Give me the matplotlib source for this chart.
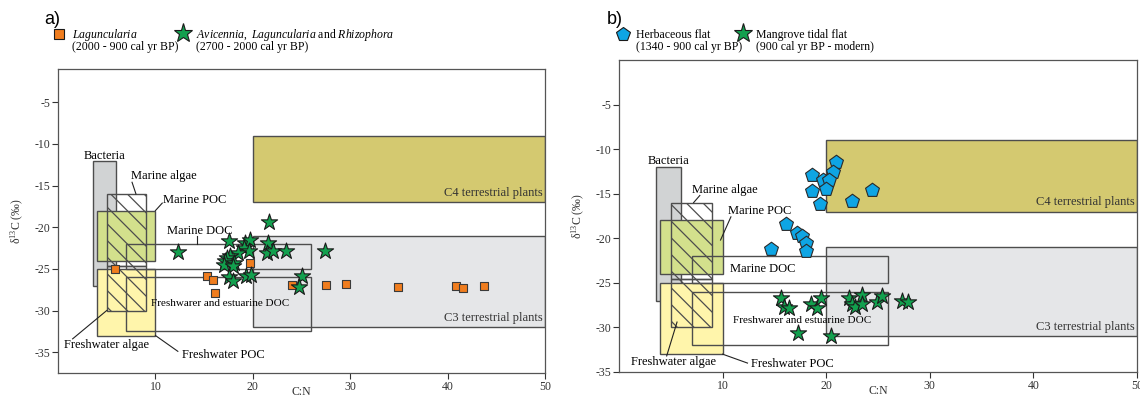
import matplotlib
matplotlib.use("Agg")
import matplotlib.pyplot as plt
from matplotlib.patches import Rectangle
from matplotlib.lines import Line2D

plt.rcParams["font.family"] = ["Liberation Serif", "DejaVu Serif"]
plt.rcParams["mathtext.fontset"] = "custom"
plt.rcParams["mathtext.rm"] = "Liberation Serif"
plt.rcParams["mathtext.it"] = "Liberation Serif:italic"
plt.rcParams["hatch.linewidth"] = 0.9
plt.rcParams["hatch.color"] = "#333333"

# --- panel a data (C:N, d13C) ---
lag_cn = [5.9, 15.3, 15.9, 16.1, 19.7, 24.0, 27.5, 29.6, 34.9, 40.9, 41.6, 43.7]
lag_d13 = [-25.0, -25.9, -26.3, -27.9, -24.3, -26.9, -26.9, -26.8, -27.2, -27.1, -27.3, -27.0]

mix_cn = [21.7, 12.3, 17.6, 19.2, 19.7, 19.1, 19.6, 18.5, 17.7, 17.3, 17.1, 18.1,
          17.0, 18.0, 21.6, 21.5, 22.1, 23.4, 27.4, 17.6, 18.0, 19.3, 19.8, 25.0, 24.7]
mix_d13 = [-19.4, -23.0, -21.7, -21.9, -21.5, -22.5, -22.8, -23.1, -23.5, -23.7, -24.1, -24.3,
           -24.5, -24.7, -21.9, -23.1, -22.9, -22.9, -22.8, -26.0, -26.5, -25.9, -25.7, -25.9, -27.2]

# --- panel b data ---
herb_cn = [20.9, 20.7, 18.6, 19.7, 20.3, 20.0, 18.6, 24.4, 22.5, 19.4,
           16.1, 17.2, 17.7, 18.0, 18.0, 14.7]
herb_d13 = [-11.5, -12.6, -12.9, -13.5, -13.5, -14.5, -14.7, -14.6, -15.8, -16.2,
            -18.4, -19.4, -19.7, -20.5, -21.4, -21.2]

mang_cn = [15.6, 15.9, 16.4, 18.5, 19.1, 19.5, 17.3, 20.5, 22.2, 22.5, 22.8,
           23.5, 23.5, 24.9, 25.4, 27.3, 27.9]
mang_d13 = [-26.7, -27.7, -27.8, -27.4, -27.8, -26.7, -30.6, -31.0, -26.7, -27.4, -27.7,
            -26.4, -27.4, -27.1, -26.5, -27.0, -27.1]

# source fields: (x0, x1, y0, y1)
c4_a = (20, 50, -17, -9)
c3_a = (20, 50, -32, -21)
c4_b = (20, 50, -17, -9)
c3_b = (20, 50, -31, -21)
bacteria = (3.6, 6.0, -27, -12)
marine_poc = (4.0, 10.0, -24, -18)
fw_poc = (4.0, 10.0, -33, -25)
algae_marine = (5.0, 9.0, -24.6, -16)
algae_fw = (5.0, 9.0, -30, -24.6)
marine_doc = (7.0, 26.0, -25, -22)
fw_doc_a = (7.0, 26.0, -32.5, -26)
fw_doc_b = (7.0, 26.0, -32, -26)

EDGE = "#4d4d4d"
FS = 9
FS_TICK = 8.5


def box(ax, b, fc="none", hatch=None, z=1):
    x0, x1, y0, y1 = b
    ax.add_patch(Rectangle((x0, y0), x1 - x0, y1 - y0, facecolor=fc,
                           edgecolor=EDGE, lw=1.0, hatch=hatch, zorder=z))


def lead(ax, p, q):
    ax.plot([p[0], q[0]], [p[1], q[1]], color="#222222", lw=0.8, zorder=4)


def fields(ax, c4, c3, fw_doc):
    box(ax, c4, fc="#d4c970", z=1)
    box(ax, c3, fc="#e5e6e8", z=1)
    box(ax, bacteria, fc="#d1d3d4", z=1.2)
    box(ax, marine_poc, fc="#d3e08c", z=1.4)
    box(ax, fw_poc, fc="#fff5ab", z=1.4)
    box(ax, algae_marine, hatch="\\\\", z=1.6)
    box(ax, algae_fw, hatch="\\\\", z=1.6)
    box(ax, marine_doc, z=1.8)
    box(ax, fw_doc, z=1.8)
    ax.text(49.8, c4[2] + 0.35, "C4 terrestrial plants", ha="right", va="bottom", fontsize=FS, color="#333333", zorder=5)
    ax.text(49.8, c3[2] + 0.35, "C3 terrestrial plants", ha="right", va="bottom", fontsize=FS, color="#333333", zorder=5)


def style(ax, ylim):
    ax.set_xlim(0, 50)
    ax.set_ylim(*ylim)
    ax.set_xticks([10, 20, 30, 40, 50])
    ax.set_yticks([-5, -10, -15, -20, -25, -30, -35])
    ax.set_yticklabels(["-5", "-10", "-15", "-20", "-25", "-30", "-35"])
    ax.tick_params(direction="out", length=4, width=0.8, pad=1.5, labelsize=FS_TICK, colors="#333333")
    for s in ax.spines.values():
        s.set_color("#555555")
        s.set_linewidth(0.9)
    ax.set_xlabel("C:N", fontsize=FS_TICK, color="#333333", va="top")
    ax.xaxis.set_label_coords(0.5, -0.042)
    ax.set_ylabel(r"δ$^{13}$C (‰)", fontsize=FS_TICK, labelpad=6, color="#333333")


fig = plt.figure(figsize=(11.4, 3.97), dpi=100)
axa = fig.add_axes([0.0509, 0.0605, 0.4272, 0.7657])
axb = fig.add_axes([0.543, 0.063, 0.4544, 0.786])

# ----- panel a -----
fields(axa, c4_a, c3_a, fw_doc_a)
axa.text(4.8, -11.5, "Bacteria", ha="center", va="center", fontsize=FS, zorder=5)
axa.text(10.9, -13.8, "Marine algae", ha="center", va="center", fontsize=FS, zorder=5)
lead(axa, (8.0, -16), (7.6, -14.6))
axa.text(14.0, -16.7, "Marine POC", ha="center", va="center", fontsize=FS, zorder=5)
lead(axa, (10.0, -18), (10.7, -17.1))
axa.text(14.5, -20.4, "Marine DOC", ha="center", va="center", fontsize=FS, zorder=5)
lead(axa, (14.3, -21.1), (14.3, -22))
axa.text(16.6, -29.2, "Freshwarer and estuarine DOC", ha="center", va="center", fontsize=8, zorder=5)
axa.text(5.0, -34.2, "Freshwater algae", ha="center", va="center", fontsize=FS, zorder=5)
lead(axa, (1.5, -33.4), (5.0, -30))
axa.text(17.0, -35.4, "Freshwater POC", ha="center", va="center", fontsize=FS, zorder=5)
lead(axa, (10.0, -33), (12.3, -34.9))

axa.scatter(lag_cn, lag_d13, marker="s", s=32, c="#f07d1e", edgecolors="#3a3a3a", linewidths=0.8, zorder=6)
axa.scatter(mix_cn, mix_d13, marker="*", s=150, c="#12a04e", edgecolors="#1a1a1a", linewidths=0.8, zorder=7)
style(axa, (-37.5, -1))

# ----- panel b -----
fields(axb, c4_b, c3_b, fw_doc_b)
axb.text(4.8, -11.3, "Bacteria", ha="center", va="center", fontsize=FS, zorder=5)
axb.text(10.2, -14.6, "Marine algae", ha="center", va="center", fontsize=FS, zorder=5)
lead(axb, (7.2, -16), (7.8, -15.2))
axb.text(13.6, -16.9, "Marine POC", ha="center", va="center", fontsize=FS, zorder=5)
lead(axb, (9.8, -20.2), (10.8, -17.6))
axb.text(13.9, -23.5, "Marine DOC", ha="center", va="center", fontsize=FS, zorder=5)
axb.text(17.7, -29.2, "Freshwarer and estuarine DOC", ha="center", va="center", fontsize=8, zorder=5)
axb.text(5.3, -33.9, "Freshwater algae", ha="center", va="center", fontsize=FS, zorder=5)
lead(axb, (4.6, -33.2), (5.6, -29.4))
axb.text(16.7, -34.1, "Freshwater POC", ha="center", va="center", fontsize=FS, zorder=5)
lead(axb, (10.0, -33), (12.4, -34.0))

axb.scatter(herb_cn, herb_d13, marker="p", s=110, c="#0ea5e4", edgecolors="#2a2a2a", linewidths=0.8, zorder=6)
axb.scatter(mang_cn, mang_d13, marker="*", s=150, c="#12a04e", edgecolors="#1a1a1a", linewidths=0.8, zorder=7)
style(axb, (-35, 0))

# ----- panel titles and legends (figure coords) -----
W, H = 1140.0, 397.0


def fx(px):
    return px / W


def fy(py):
    return 1 - py / H


fig.text(fx(44), fy(20), "a)", family="Liberation Sans", fontsize=13, va="center", ha="left")
fig.text(fx(607), fy(20), "b)", family="Liberation Sans", fontsize=13, va="center", ha="left")


def legmark(px, py, marker, color, size):
    fig.add_artist(Line2D([fx(px)], [fy(py)], transform=fig.transFigure, marker=marker, ms=size,
                          mfc=color, mec="#1a1a1a", mew=0.8, ls="none"))


FS_LEG = 8.5
L1, L2 = 38, 50  # baselines of the two legend lines
legmark(59, 34, "s", "#f07d1e", 7.5)
fig.text(fx(72), fy(L1), r"$\it{Laguncularia}$", fontsize=FS_LEG, va="baseline")
fig.text(fx(72), fy(L2), "(2000 - 900 cal yr BP)", fontsize=FS_LEG, va="baseline")
legmark(183, 33, "*", "#12a04e", 14)
fig.text(fx(196), fy(L1), r"$\it{Avicennia,\ Laguncularia}$ and $\it{Rhizophora}$", fontsize=FS_LEG, va="baseline")
fig.text(fx(196), fy(L2), "(2700 - 2000 cal yr BP)", fontsize=FS_LEG, va="baseline")

legmark(623, 34, "p", "#0ea5e4", 10)
fig.text(fx(636), fy(L1), "Herbaceous flat", fontsize=FS_LEG, va="baseline")
fig.text(fx(636), fy(L2), "(1340 - 900 cal yr BP)", fontsize=FS_LEG, va="baseline")
legmark(743, 33, "*", "#12a04e", 14)
fig.text(fx(756), fy(L1), "Mangrove tidal flat", fontsize=FS_LEG, va="baseline")
fig.text(fx(756), fy(L2), "(900 cal yr BP - modern)", fontsize=FS_LEG, va="baseline")

fig.savefig("out.png", dpi=100)
